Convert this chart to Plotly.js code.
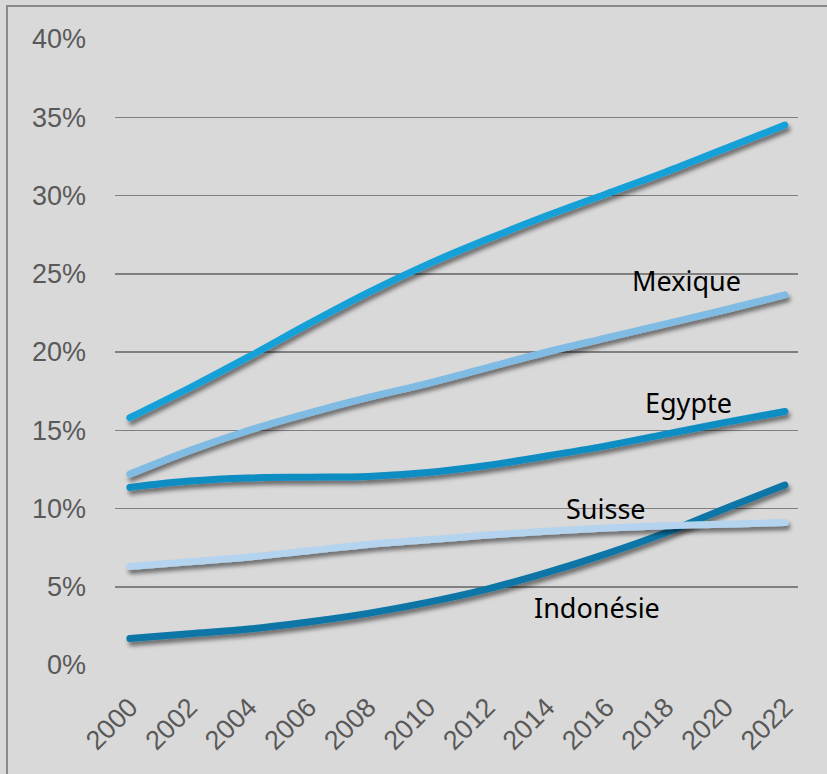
<!DOCTYPE html>
<html>
<head>
<meta charset="utf-8">
<script src="https://cdn.plot.ly/plotly-3.0.1.min.js"></script>
<style>
  html, body { margin: 0; padding: 0; background: #d9d9d9; }
  #wrap { position: relative; width: 827px; height: 774px; }
  #chart { width: 827px; height: 774px; }
  #frame { position: absolute; left: 6px; top: 5px; width: 900px; height: 900px;
           border-left: 2px solid #8a8a8a; border-top: 2px solid #8a8a8a; pointer-events: none; }
</style>
</head>
<body>
<svg width="0" height="0" style="position:absolute">
  <defs>
    <filter id="lineshadow" filterUnits="userSpaceOnUse" x="-200" y="-200" width="2000" height="2000">
      <feDropShadow dx="2" dy="4" stdDeviation="2" flood-color="#000000" flood-opacity="0.5"/>
    </filter>
  </defs>
</svg>
<div id="wrap">
  <div id="chart"></div>
  <div id="frame"></div>
</div>
<script>
const years = [2000, 2002, 2004, 2006, 2008, 2010, 2012, 2014, 2016, 2018, 2020, 2022];
const seriesTop  = [15.8, 17.7, 19.7, 21.8, 23.8, 25.6, 27.2, 28.7, 30.1, 31.5, 33.0, 34.5];
const mexique    = [12.2, 13.7, 15.0, 16.1, 17.1, 18.0, 19.0, 20.0, 20.9, 21.8, 22.7, 23.65];
const egypte     = [11.35, 11.75, 11.95, 12.0, 12.05, 12.3, 12.75, 13.35, 14.0, 14.75, 15.5, 16.2];
const suisse     = [6.3, 6.6, 6.9, 7.3, 7.7, 8.0, 8.3, 8.55, 8.75, 8.9, 9.0, 9.1];
const indonesie  = [1.7, 2.0, 2.3, 2.75, 3.3, 4.0, 4.85, 5.9, 7.1, 8.45, 10.0, 11.5];

const yTickVals = [0, 5, 10, 15, 20, 25, 30, 35, 40];
const yTickText = ['0%', '5%', '10%', '15%', '20%', '25%', '30%', '35%', '40%'];
const xTickVals = years;

const labels = [
  {text: 'Mexique',   x: 2018.7, y: 24.6},
  {text: 'Egypte',    x: 2018.75, y: 16.8},
  {text: 'Suisse',    x: 2016.0, y: 10.0},
  {text: 'Indonésie', x: 2015.7, y: 3.7}
];

function line(name, y, color) {
  return {
    type: 'scatter', mode: 'lines', name: name, x: years, y: y,
    line: {color: color, width: 7, shape: 'spline', smoothing: 1.0},
    showlegend: false, hoverinfo: 'skip', xaxis: 'x', yaxis: 'y'
  };
}

const traces = [
  line('Indonésie', indonesie, '#0a76a6'),
  line('Suisse', suisse, '#b3d3ee'),
  line('Egypte', egypte, '#0c8dc2'),
  line('Mexique', mexique, '#80bbe3'),
  line('Série', seriesTop, '#14a0d8'),
  {type: 'scatter', mode: 'lines', x: [], y: [], xaxis: 'x', yaxis: 'y2', showlegend: false}
];

const tickFont = {family: 'Liberation Sans, Arial, sans-serif', size: 27, color: '#595959'};

const layout = {
  width: 827, height: 774,
  paper_bgcolor: '#d9d9d9', plot_bgcolor: '#d9d9d9',
  margin: {l: 115, r: 29, t: 39, b: 109},
  showlegend: false,
  xaxis: {
    type: 'linear', range: [1999.5, 2022.44],
    tickmode: 'array', tickvals: xTickVals, ticktext: xTickVals.map(String),
    tickangle: -45, tickfont: tickFont, showgrid: false, zeroline: false,
    showline: false, ticks: '', ticklabelstandoff: 20
  },
  yaxis: {
    range: [0, 40], tickmode: 'array', tickvals: yTickVals.slice(1),
    showticklabels: false, showgrid: true, gridcolor: '#808080', gridwidth: 1.5,
    zeroline: false, showline: false, ticks: ''
  },
  yaxis2: {
    range: [0, 40], overlaying: 'y', side: 'left',
    tickmode: 'array', tickvals: yTickVals, ticktext: yTickText,
    tickfont: tickFont, showgrid: false, zeroline: false, showline: false,
    ticks: '', ticklabelstandoff: 28
  },
  annotations: labels.map(l => ({
    text: l.text, x: l.x, y: l.y, xref: 'x', yref: 'y', showarrow: false,
    font: {family: 'Noto Sans, Open Sans, sans-serif', size: 27, color: '#000000'},
    xanchor: 'center', yanchor: 'middle'
  }))
};

Plotly.newPlot('chart', traces, layout, {displayModeBar: false, staticPlot: true}).then(function () {
  document.querySelectorAll('#chart .scatterlayer .trace path').forEach(function (p) {
    p.setAttribute('filter', 'url(#lineshadow)');
    p.style.strokeLinecap = 'round';
  });
});
</script>
</body>
</html>
